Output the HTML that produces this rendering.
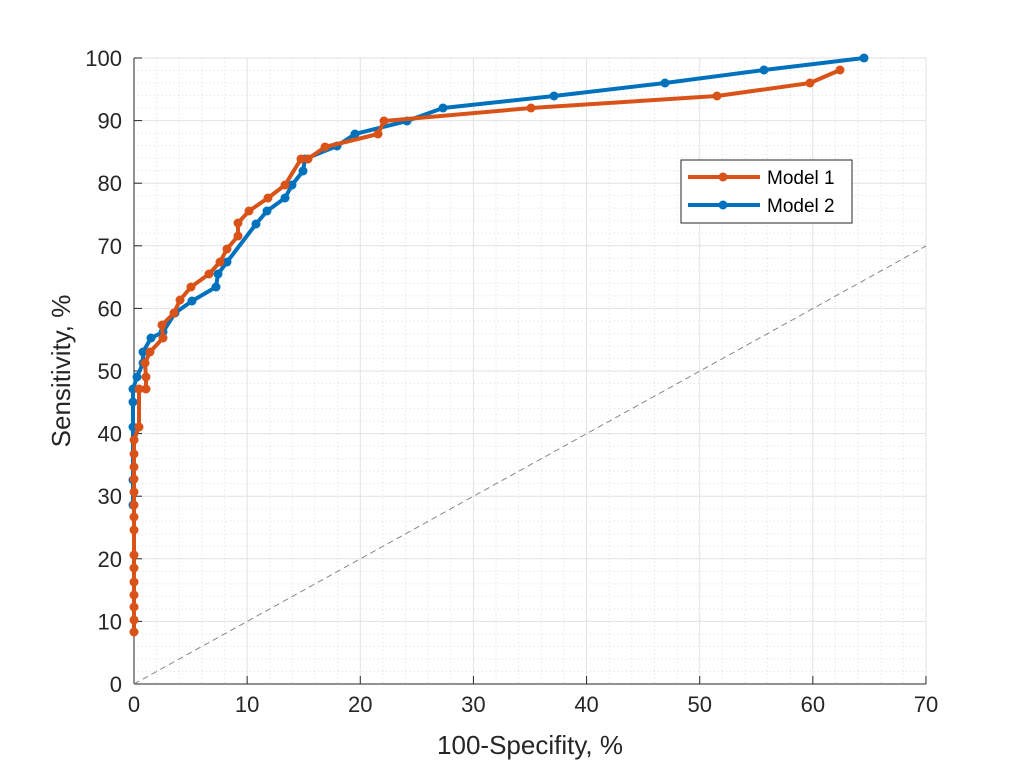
<!DOCTYPE html>
<html><head><meta charset="utf-8"><style>body{margin:0;background:#fff}svg{display:block}text{font-family:"Liberation Sans",sans-serif}</style></head>
<body>
<svg id="s" width="1024" height="768" xmlns="http://www.w3.org/2000/svg"></svg>
<script>
const s=document.getElementById('s');
let h='';
const X=v=>134+v*11.314, Y=v=>684-v*6.26;
for(let v=2;v<70;v+=2){if(v%10)h+=`<line x1="${X(v)}" y1="58" x2="${X(v)}" y2="684" stroke="#ddd" stroke-width="1" stroke-dasharray="1,3"/>`;}
for(let v=2;v<100;v+=2){if(v%10)h+=`<line x1="134" y1="${Y(v)}" x2="926" y2="${Y(v)}" stroke="#ddd" stroke-width="1" stroke-dasharray="1,3"/>`;}
for(let v=10;v<=70;v+=10)h+=`<line x1="${X(v)}" y1="58" x2="${X(v)}" y2="684" stroke="#e2e2e2"/>`;
for(let v=10;v<=100;v+=10)h+=`<line x1="134" y1="${Y(v)}" x2="926" y2="${Y(v)}" stroke="#e2e2e2"/>`;
h+=`<line x1="134" y1="58" x2="134" y2="684" stroke="#262626"/><line x1="134" y1="684" x2="926" y2="684" stroke="#262626"/>`;
for(let v=0;v<=70;v+=10){h+=`<line x1="${X(v)}" y1="684" x2="${X(v)}" y2="676" stroke="#262626"/><text x="${X(v)}" y="712" font-size="22" text-anchor="middle" fill="#262626">${v}</text>`;}
for(let v=0;v<=100;v+=10){h+=`<line x1="134" y1="${Y(v)}" x2="142" y2="${Y(v)}" stroke="#262626"/><text x="122" y="${Y(v)+8}" font-size="22" text-anchor="end" fill="#262626">${v}</text>`;}
h+=`<text x="530" y="754" font-size="26" text-anchor="middle" fill="#262626">100-Specifity, %</text>`;
h+=`<text transform="translate(70,371) rotate(-90)" font-size="26" text-anchor="middle" fill="#262626">Sensitivity, %</text>`;
h+=`<line x1="134" y1="684" x2="926" y2="246" stroke="#888" stroke-dasharray="6,4"/>`;
const m1=[[134,632],[134,620],[134,607],[134,595],[134,582],[134,568],[134,555],[134,530],[134,517],[134,505],[134,492],[134,479],[134,467],[134,454],[134,440],[139,427],[139,389],[146,389],[146,377],[145,363],[150,352],[163,338],[162,325],[174,313],[180,300],[191,287],[209,274],[220,262],[227,249],[238,236],[238,223],[249,211],[268,198],[285,185],[301,159],[308,159],[325,147],[378,134],[384,121],[531,108],[717,96],[810,83],[840,70]];
const m2=[[133,505],[133,480],[133,427],[133,402],[133,389],[137,377],[143,363],[143,352],[151,338],[163,332],[175,313],[192,301],[216,287],[218,274],[227,262],[256,224],[267,211],[285,198],[292,185],[303,171],[305,159],[337,146],[355,134],[407,121],[443,108],[554,96],[665,83],[764,70],[864,58]];
function ser(p,c){let r=`<polyline points="${p.map(q=>q.join(',')).join(' ')}" fill="none" stroke="${c}" stroke-width="4" stroke-linejoin="round"/>`;p.forEach(q=>r+=`<circle cx="${q[0]}" cy="${q[1]}" r="4.5" fill="${c}"/>`);return r;}
h+=ser(m2,'#0072BD');h+=ser(m1,'#D95319');
h+=`<rect x="681" y="160" width="171" height="63" fill="#fff" stroke="#262626"/>`;
h+=`<line x1="688" y1="177" x2="760" y2="177" stroke="#D95319" stroke-width="4"/><circle cx="723" cy="177" r="4.5" fill="#D95319"/><text x="767" y="184" font-size="19" fill="#000">Model 1</text>`;
h+=`<line x1="688" y1="205" x2="760" y2="205" stroke="#0072BD" stroke-width="4"/><circle cx="723" cy="205" r="4.5" fill="#0072BD"/><text x="767" y="212" font-size="19" fill="#000">Model 2</text>`;
s.innerHTML=h;
</script>
</body></html>
